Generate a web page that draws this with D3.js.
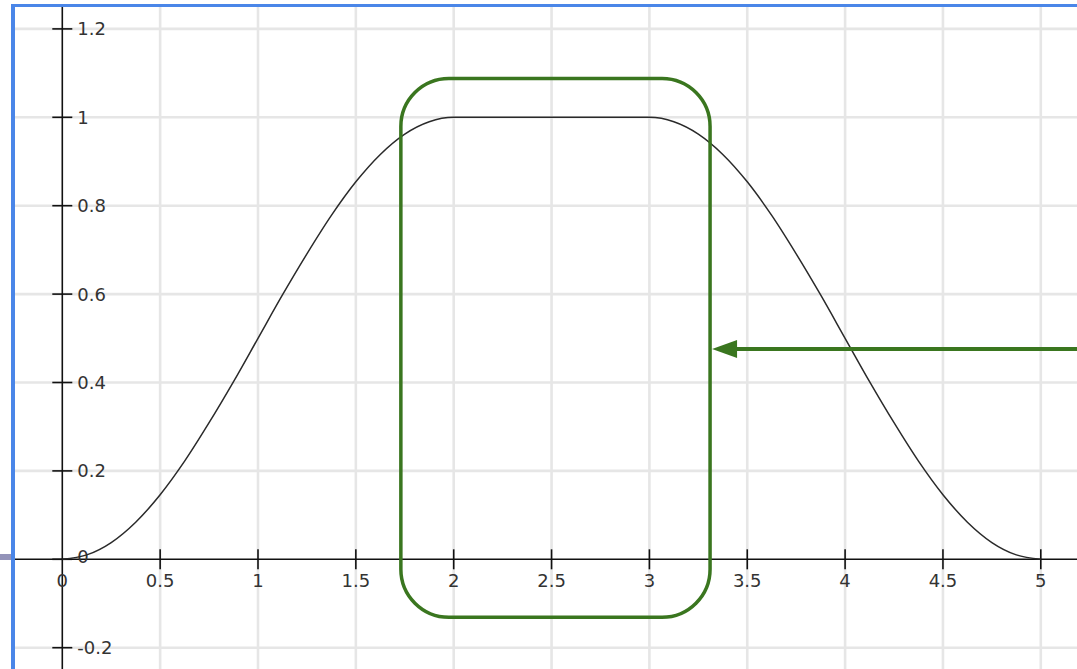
<!DOCTYPE html>
<html>
<head>
<meta charset="utf-8">
<script src="https://cdn.jsdelivr.net/npm/d3@7"></script>
<style>
  html, body { margin: 0; padding: 0; background: #fff; }
  svg { display: block; }
  text { font-family: "DejaVu Sans", sans-serif; }
</style>
</head>
<body>
<svg id="chart" width="1077" height="669"></svg>
<script>
// Rise segment of the curve (x, y)
const riseX = [0, 0.125, 0.25, 0.375, 0.5, 0.625, 0.75, 0.875, 1, 1.125, 1.25, 1.375, 1.5, 1.625, 1.75, 1.875, 2];
const riseY = [0, 0.01, 0.038, 0.084, 0.146, 0.222, 0.309, 0.402, 0.5, 0.598, 0.691, 0.778, 0.854, 0.916, 0.962, 0.99, 1];
// Flat top
const flatX = [2.5];
const flatY = [1];
// Fall segment
const fallX = [3, 3.125, 3.25, 3.375, 3.5, 3.625, 3.75, 3.875, 4, 4.125, 4.25, 4.375, 4.5, 4.625, 4.75, 4.875, 5];
const fallY = [1, 0.99, 0.962, 0.916, 0.854, 0.778, 0.691, 0.598, 0.5, 0.402, 0.309, 0.222, 0.146, 0.084, 0.038, 0.01, 0];

// Axis ticks
const xTicks = [0, 0.5, 1, 1.5, 2, 2.5, 3, 3.5, 4, 4.5, 5];
const xTickLabels = ["0", "0.5", "1", "1.5", "2", "2.5", "3", "3.5", "4", "4.5", "5"];
const yTicks = [-0.2, 0, 0.2, 0.4, 0.6, 0.8, 1, 1.2];
const yTickLabels = ["-0.2", "0", "0.2", "0.4", "0.6", "0.8", "1", "1.2"];

// Highlight box (data coordinates) and pointer arrow
const boxX = [1.73, 3.31];
const boxY = [1.088, -0.131];
const arrowY = [0.476];

const svg = d3.select("#chart");
const W = 1077, H = 669;

const x = d3.scaleLinear().domain([0, 5]).range([62.3, 1040.8]);
const y = d3.scaleLinear().domain([0, 1]).range([559.3, 117.3]);

const defs = svg.append("defs");
defs.append("clipPath").attr("id", "plot")
  .append("rect").attr("x", 14).attr("y", 6).attr("width", W - 14).attr("height", H - 6);

const g = svg.append("g").attr("clip-path", "url(#plot)");

// Grid
const gridXs = d3.range(-1, 12).map(d => d * 0.5).filter(d => d !== 0);
g.selectAll("line.gx").data(gridXs).join("line")
  .attr("x1", d => x(d)).attr("x2", d => x(d))
  .attr("y1", 0).attr("y2", H)
  .attr("stroke", "#e6e6e6").attr("stroke-width", 2.6);
const gridYs = [-0.4, -0.2, 0.2, 0.4, 0.6, 0.8, 1, 1.2, 1.4];
g.selectAll("line.gy").data(gridYs).join("line")
  .attr("x1", 0).attr("x2", W)
  .attr("y1", d => y(d)).attr("y2", d => y(d))
  .attr("stroke", "#e6e6e6").attr("stroke-width", 2.6);

// Axes lines
g.append("line").attr("x1", 0).attr("x2", W).attr("y1", y(0)).attr("y2", y(0))
  .attr("stroke", "#111").attr("stroke-width", 1.6);
g.append("line").attr("x1", x(0)).attr("x2", x(0)).attr("y1", 0).attr("y2", H)
  .attr("stroke", "#111").attr("stroke-width", 1.6);

// X ticks & labels
g.selectAll("line.xt").data(xTicks.filter(d => d !== 0)).join("line")
  .attr("x1", d => x(d)).attr("x2", d => x(d))
  .attr("y1", y(0) - 10).attr("y2", y(0) + 10)
  .attr("stroke", "#111").attr("stroke-width", 1.6);
g.selectAll("text.xl").data(xTicks).join("text")
  .attr("x", d => x(d)).attr("y", y(0) + 28)
  .attr("text-anchor", "middle")
  .attr("font-size", 18).attr("fill", "#333")
  .text((d, i) => xTickLabels[i]);

// Y ticks & labels
g.selectAll("line.yt").data(yTicks).join("line")
  .attr("x1", x(0) - 10).attr("x2", x(0) + 10)
  .attr("y1", d => y(d)).attr("y2", d => y(d))
  .attr("stroke", "#111").attr("stroke-width", 1.6);
g.selectAll("text.yl").data(yTicks).join("text")
  .attr("x", x(0) + 15).attr("y", d => y(d) + (d === 0 ? 4 : 6.5))
  .attr("font-size", 18).attr("fill", "#333")
  .text((d, i) => yTickLabels[i]);

// Curve
const pts = [];
riseX.forEach((v, i) => pts.push([v, riseY[i]]));
flatX.forEach((v, i) => pts.push([v, flatY[i]]));
fallX.forEach((v, i) => pts.push([v, fallY[i]]));
const line = d3.line().x(d => x(d[0])).y(d => y(d[1])).curve(d3.curveMonotoneX);
g.append("path").datum(pts).attr("d", line)
  .attr("fill", "none").attr("stroke", "#2a2a2a").attr("stroke-width", 1.5);

// Highlight box
const green = "#3a761f";
g.append("rect")
  .attr("x", x(boxX[0])).attr("y", y(boxY[0]))
  .attr("width", x(boxX[1]) - x(boxX[0]))
  .attr("height", y(boxY[1]) - y(boxY[0]))
  .attr("rx", 48).attr("ry", 48)
  .attr("fill", "none").attr("stroke", green).attr("stroke-width", 3.5);

// Pointer arrow
const ay = y(arrowY[0]);
const tipX = x(boxX[1]) + 2;
g.append("line").attr("x1", W + 5).attr("x2", tipX + 20).attr("y1", ay).attr("y2", ay)
  .attr("stroke", green).attr("stroke-width", 4);
g.append("path")
  .attr("d", `M${tipX},${ay} L${tipX + 25},${ay - 9} L${tipX + 25},${ay + 9} Z`)
  .attr("fill", green);

// Selection frame
svg.append("rect").attr("x", 0).attr("y", 554).attr("width", 12).attr("height", 6).attr("fill", "#9393b9");
svg.append("line").attr("x1", 11).attr("x2", W).attr("y1", 5.5).attr("y2", 5.5)
  .attr("stroke", "#4a86e8").attr("stroke-width", 3);
svg.append("line").attr("x1", 13).attr("x2", 13).attr("y1", 4).attr("y2", H)
  .attr("stroke", "#4a86e8").attr("stroke-width", 4);
</script>
</body>
</html>
